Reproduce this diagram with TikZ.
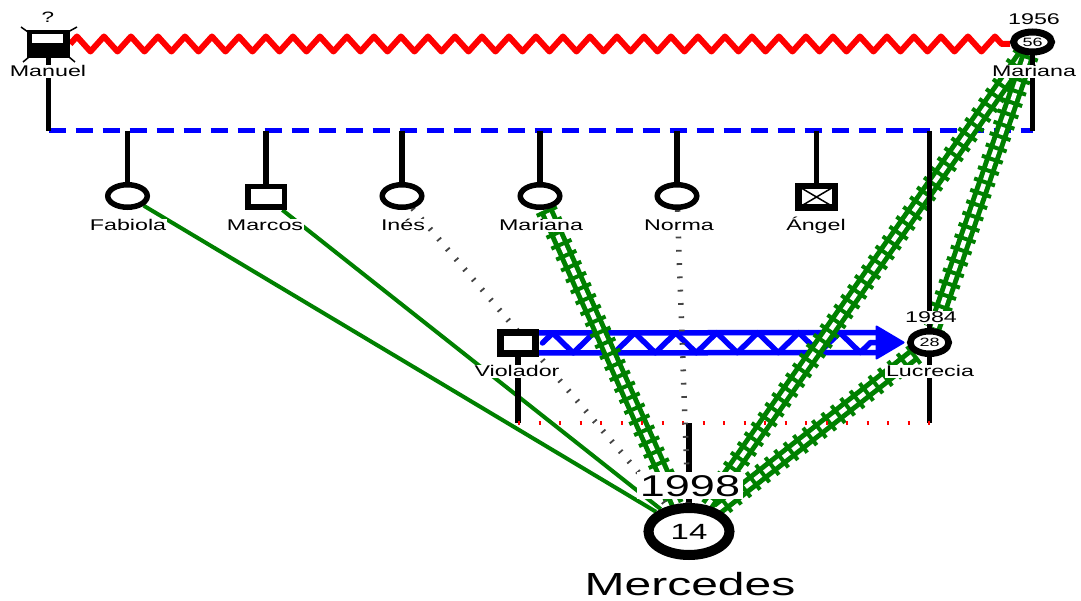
\documentclass[tikz,border=0pt]{standalone}
\usepackage{fontspec}
\setmainfont{Liberation Sans}
\usepackage{graphicx}
\usetikzlibrary{shapes.geometric,decorations.pathmorphing,calc}
\pgfdeclarelayer{background}
\pgfsetlayers{background,main}
\definecolor{grn}{RGB}{0,128,0}
\definecolor{dgray}{RGB}{68,68,68}
\newcommand{\stx}[1]{\scalebox{1.5}[1]{#1}}
\begin{document}
\begin{tikzpicture}[x=1pt,y=-1pt,
 lbl/.style={fill=white, inner sep=1pt, anchor=base, font=\fontsize{15.5}{18}\selectfont},
 fem/.style={ellipse, draw=black, fill=white, line width=5.5pt, minimum width=39.5pt, minimum height=22.5pt, inner sep=0pt},
 mal/.style={rectangle, draw=black, fill=white, line width=5.5pt, minimum width=36.5pt, minimum height=20.5pt, inner sep=0pt},
 blk/.style={draw=black, line width=5.5pt},
 famline/.style={draw=blue, line width=5pt, dash pattern=on 17pt off 10pt},
 rails/.style={draw=grn, line width=5pt, double=white, double distance=4.5pt},
 rungs/.style={draw=grn, line width=22pt, dash pattern=on 4pt off 8pt},
 gline/.style={draw=grn, line width=4pt},
 gdot/.style={draw=dgray, line width=5.5pt, dash pattern=on 1.8pt off 11.5pt},
 rdot/.style={draw=red, line width=4pt, dash pattern=on 2pt off 18.5pt},
 bz/.style={draw=blue, line width=5.5pt, line join=round, line cap=round},
 ticks/.style={draw=black, line width=1.5pt},
]
\useasboundingbox (0,0) rectangle (1081,601);
% persons
\node[rectangle, fill=black, minimum width=43pt, minimum height=28pt, inner sep=0pt,
  path picture={\fill[white] ($(path picture bounding box.north west)+(5,4)$) rectangle ($(path picture bounding box.north east)+(-7,13)$);}] (man) at (48.5,44) {};
\node[fem, line width=7pt, minimum width=38pt, minimum height=20pt, font=\fontsize{12}{14}\selectfont] (mar) at (1032.5,42) {\stx{56}};
\node[fem] (fab) at (127.5,196) {};
\node[mal] (marc) at (266,197) {};
\node[fem] (ines) at (402,196) {};
\node[fem] (mar2) at (540,196) {};
\node[fem] (norma) at (677,196) {};
\node[mal, line width=6.5pt, minimum width=36.5pt, minimum height=21.5pt,
  path picture={\draw[line width=1.5pt] (path picture bounding box.north west) -- (path picture bounding box.south east) (path picture bounding box.south west) -- (path picture bounding box.north east);}] (angel) at (816.5,197) {};
\node[mal, line width=7pt, minimum width=35pt, minimum height=21pt] (viol) at (518,343) {};
\node[fem, line width=6.5pt, minimum width=38.5pt, minimum height=22.5pt, font=\fontsize{12}{14}\selectfont] (luc) at (929.5,342.5) {\stx{28}};
\node[fem, line width=10pt, minimum width=81pt, minimum height=47pt, font=\fontsize{22}{26}\selectfont] (merc) at (689,531.5) {\stx{14}};
% corner ticks of Manuel
\draw[ticks] ($(man.center)+(-27.5,-17)$) -- ($(man.center)+(-20.5,-12)$);
\draw[ticks] ($(man.center)+(19.5,-12)$) -- ($(man.center)+(28.5,-17)$);
\draw[ticks] ($(man.center)+(-25.5,18)$) -- ($(man.center)+(-19.5,13)$);
\draw[ticks] ($(man.center)+(20.5,13)$) -- ($(man.center)+(26.5,18)$);
% labels
\node[lbl, font=\fontsize{15}{18}\selectfont, fill=none] (q) at (48,23) {\stx{?}};
\node[lbl] (manl) at (48,77) {\stx{Manuel}};
\node[lbl] (y56) at (1034,25) {\stx{1956}};
\node[lbl] (marl) at (1034,77) {\stx{Mariana}};
\node[lbl] (fabl) at (128,231) {\stx{Fabiola}};
\node[lbl] (marcl) at (265,231) {\stx{Marcos}};
\node[lbl] (inesl) at (403,231) {\stx{Inés}};
\node[lbl] (mar2l) at (541,231) {\stx{Mariana}};
\node[lbl] (normal) at (679,231) {\stx{Norma}};
\node[lbl] (angell) at (816,231) {\stx{Ángel}};
\node[lbl] (violl) at (517,377) {\stx{Violador}};
\node[lbl] (y84) at (931,323) {\stx{1984}};
\node[lbl] (lucl) at (930,377) {\stx{Lucrecia}};
\node[lbl, font=\fontsize{30}{36}\selectfont, inner sep=3pt] (y98) at (690,496) {\stx{1998}};
\node[lbl, font=\fontsize{32}{38}\selectfont, inner sep=0pt] (mercl) at (690,595) {\stx{Mercedes}};
% connectors
\begin{pgfonlayer}{background}
\fill[white] (0,0) rectangle (1081,601);
\coordinate (fl) at (0,131);
\coordinate (ul) at (0,423);
\draw[red, line width=6pt, line join=round, decorate, decoration={zigzag, segment length=27pt, amplitude=7.5pt}] (man.east) -- (man.east -| mar.west);
\draw[famline] (man |- fl) -- (mar |- fl);
% abuse arrow
\draw[bz] ($(viol.east)+(0,-10)$) -- ($(luc.center)+(-53,-10)$);
\draw[bz] ($(viol.east)+(0,10)$) -- ($(luc.center)+(-53,10)$);
\draw[bz, decorate, decoration={zigzag, segment length=41pt, amplitude=10pt}] ($(viol.east)+(3.5,0)$) -- ($(luc.center)+(-53,0)$);
\filldraw[blue, line width=2pt, line join=round] ($(luc.center)+(-53,-16)$) -- ($(luc.center)+(-26,0)$) -- ($(luc.center)+(-53,16)$) -- cycle;
% green relations
\draw[gline] (fab) -- (merc);
\draw[gline] (marc) -- (merc);
\draw[rails] (mar2) -- (merc);
\draw[rungs] (mar2) -- (merc);
\draw[rails] (mar) -- (merc);
\draw[rungs] (mar) -- (merc);
\draw[rails] (mar) -- (luc);
\draw[rungs] (mar) -- (luc);
\draw[rails] (luc) -- (merc);
\draw[rungs] (luc) -- (merc);
% family lines
\draw[blk] (man) -- (man |- fl);
\draw[blk] (mar) -- (mar |- fl);
\foreach \c in {fab,marc,ines,mar2,norma,angel,luc} \draw[blk] (\c |- fl) -- (\c);
\draw[blk] (viol) -- (viol |- ul);
\draw[blk] (luc) -- (luc |- ul);
\draw[blk] (merc |- ul) -- (merc);
\draw[rdot] (viol |- ul) -- (luc |- ul);
% distant relations
\draw[gdot] (ines) -- (merc);
\draw[gdot] (norma) -- (merc);
\end{pgfonlayer}
\end{tikzpicture}
\end{document}
